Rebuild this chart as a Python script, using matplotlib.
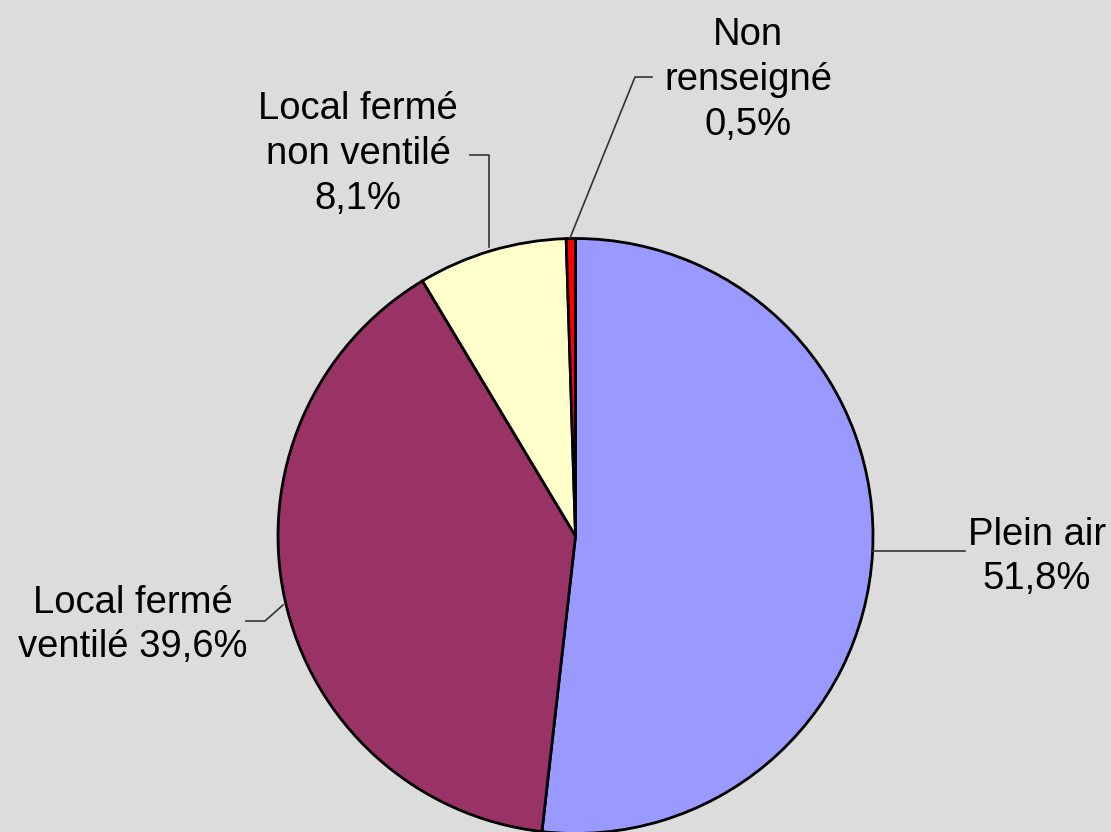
import matplotlib
matplotlib.use("Agg")
import matplotlib.pyplot as plt

categories = ["Plein air", "Local fermé ventilé", "Local fermé non ventilé", "Non renseigné"]
values = [51.8, 39.6, 8.1, 0.5]
label_texts = ["Plein air\n51,8%", "Local fermé\nventilé 39,6%", "Local fermé\nnon ventilé\n8,1%", "Non\nrenseigné\n0,5%"]
colors = ["#9999FF", "#993366", "#FFFFCC", "#FF0000"]

W, H = 1111, 832
cx, cy, R = 575.5, 536.0, 297.5

def d(px, py):
    return ((px - cx) / R, (cy - py) / R)

fig = plt.figure(figsize=(W / 100, H / 100), dpi=100)
fig.patch.set_facecolor("#DCDCDC")
ax = fig.add_axes([0, 0, 1, 1])
ax.set_facecolor("#DCDCDC")
ax.pie(values, colors=colors, startangle=90, counterclock=False, radius=1,
       wedgeprops=dict(edgecolor="black", linewidth=2))
ax.set_xlim(-cx / R, (W - cx) / R)
ax.set_ylim((cy - H) / R, cy / R)
ax.set_aspect("equal")
ax.axis("off")

font = dict(family="Liberation Sans", fontsize=27.5, color="black",
            ha="center", va="center", linespacing=1.32)

# leader lines (pixel paths)
leaders = [
    [(873, 551), (965, 551)],
    [(283, 605), (265, 621), (246, 621)],
    [(489, 247), (489, 155), (470, 155)],
    [(570, 238), (635, 77), (652, 77)],
]
for path in leaders:
    xs, ys = zip(*[d(*p) for p in path])
    ax.plot(xs, ys, color="#333333", lw=1.2)

label_pos = [(1037, 557), (133, 625), (358, 154), (748, 80)]
for txt, (px, py) in zip(label_texts, label_pos):
    x, y = d(px, py)
    ax.text(x, y, txt, **font)

fig.savefig("out.png", dpi=100, facecolor=fig.get_facecolor())
